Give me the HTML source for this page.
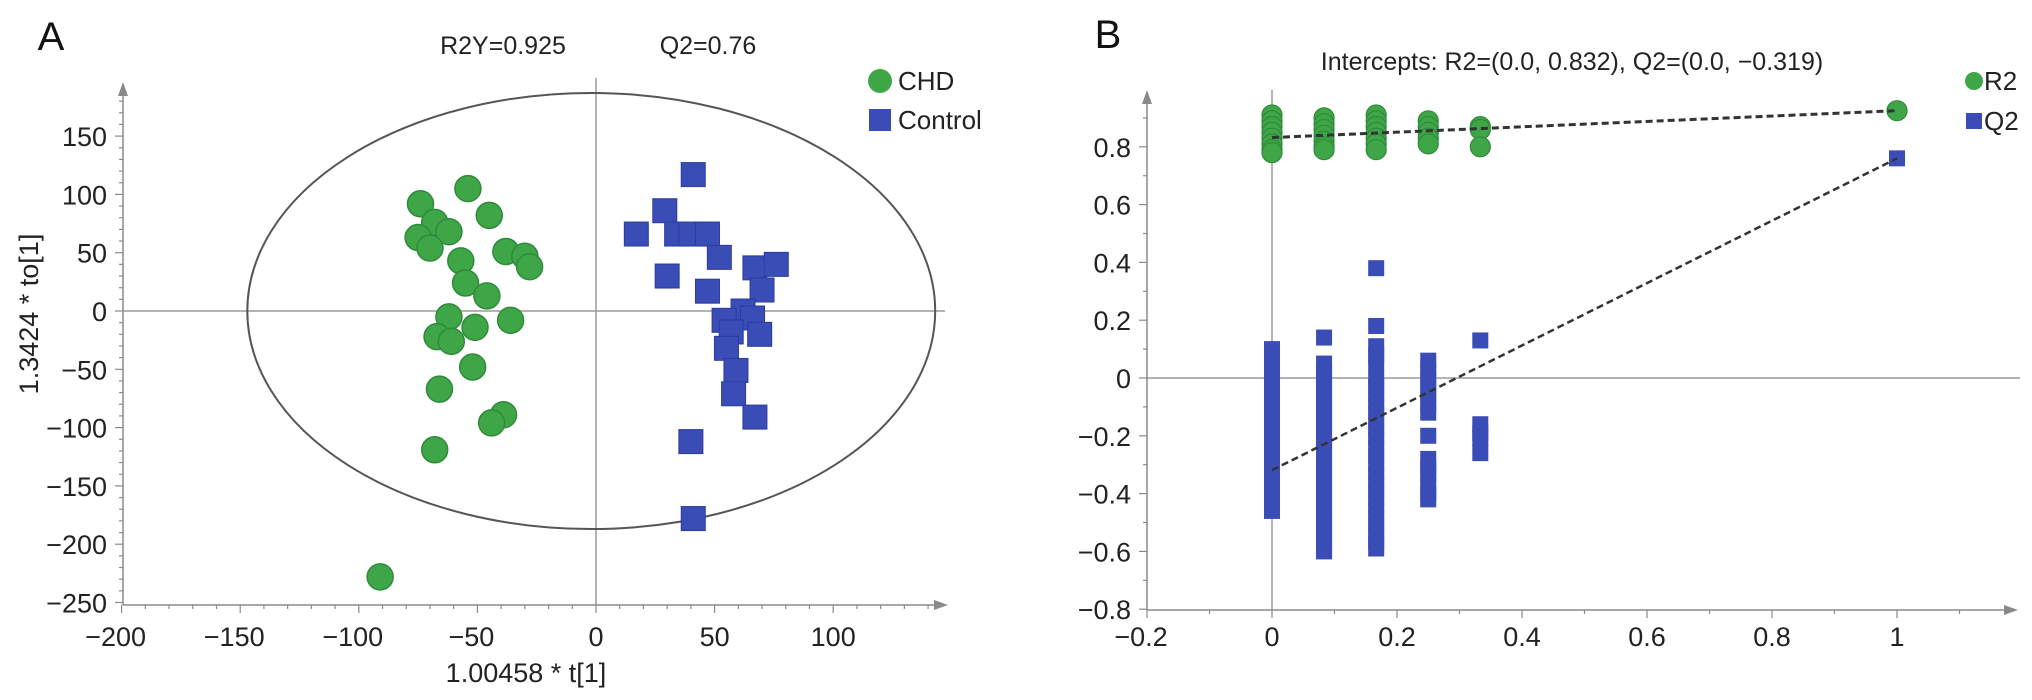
<!DOCTYPE html>
<html><head><meta charset="utf-8"><style>
html,body{margin:0;padding:0;background:#fff;}
svg{display:block;font-family:"Liberation Sans",Arial,sans-serif;}
</style></head><body>
<svg id="chart" width="2032" height="700" viewBox="0 0 2032 700">
<g id="pa"></g>
<g id="pb"></g>
</svg>
<script>
// ---- Panel A data (OPLS-DA scores) ----
const chdX = [-54,-74,-45,-68,-62,-75,-70,-57,-38,-30,-28,-55,-46,-62,-36,-51,-67,-61,-52,-66,-39,-44,-68,-91];
const chdY = [105,92,82,76,68,63,54,43,51,47,38,24,13,-5,-8,-14,-22,-26,-48,-67,-89,-96,-119,-228];
const ctrlX = [41,29,17,34,40,47,52,30,47,67,76,70,62,54,66,57,69,55,59,58,67,40,41];
const ctrlY = [117,86,66,66,66,66,46,30,17,37,40,18,0,-8,-6,-18,-20,-32,-51,-71,-91,-112,-178];
const aXTicks = [-200,-150,-100,-50,0,50,100];
const aYTicks = [150,100,50,0,-50,-100,-150,-200,-250];

// ---- Panel B data (permutation test) ----
const permX = [0,0.0833,0.1667,0.25,0.3333,1];
const r2Cols = [
 [0.91,0.89,0.87,0.85,0.83,0.81,0.79,0.78],
 [0.90,0.88,0.86,0.84,0.82,0.80,0.79],
 [0.91,0.89,0.87,0.85,0.83,0.81,0.79],
 [0.89,0.87,0.85,0.83,0.81],
 [0.87,0.86,0.80],
 [0.925]
];
const q2Cols = [
 [0.10,0.07,0.04,0.01,-0.02,-0.05,-0.08,-0.11,-0.14,-0.17,-0.20,-0.23,-0.26,-0.29,-0.32,-0.35,-0.38,-0.41,-0.44,-0.46],
 [0.14,0.05,0.02,-0.01,-0.04,-0.07,-0.10,-0.13,-0.16,-0.19,-0.22,-0.25,-0.28,-0.31,-0.34,-0.37,-0.40,-0.43,-0.46,-0.49,-0.52,-0.55,-0.58,-0.60],
 [0.38,0.18,0.11,0.08,0.05,0.00,-0.03,-0.06,-0.09,-0.12,-0.15,-0.18,-0.21,-0.24,-0.27,-0.30,-0.33,-0.36,-0.39,-0.42,-0.45,-0.48,-0.51,-0.54,-0.57,-0.59],
 [0.06,0.03,0.00,-0.03,-0.06,-0.09,-0.12,-0.20,-0.28,-0.31,-0.33,-0.37,-0.40,-0.42],
 [0.13,-0.16,-0.19,-0.21,-0.26],
 [0.76]
];
const r2Intercept = [0.832,0.925];
const q2Intercept = [-0.319,0.76];
const bXTicks = [-0.2,0,0.2,0.4,0.6,0.8,1];
const bYTicks = [0.8,0.6,0.4,0.2,0,-0.2,-0.4,-0.6,-0.8];

const NS="http://www.w3.org/2000/svg";
function mk(parent,tag,attrs,text){const e=document.createElementNS(NS,tag);for(const k in attrs)e.setAttribute(k,attrs[k]);if(text!==undefined)e.textContent=text;parent.appendChild(e);return e;}
function fmt(v){return v<0?'\u2212'+String(Math.abs(v)):String(v);}

// ===== Panel A =====
const A=document.getElementById('pa');
const axA=v=>596+v*2.372, ayA=v=>311-v*1.166;
const green='#3fa648', greenS='#2f8a3a', blue='#3a4cb6', blueS='#2c3c9c', axc='#8a8a8a';
let e;
e=mk(A,'text',{x:51,y:50,'font-size':40,'text-anchor':'middle',fill:'#111'},'A');

e=mk(A,'text',{x:503,y:54,'font-size':25,'text-anchor':'middle',fill:'#222'},'R2Y=0.925');

e=mk(A,'text',{x:708,y:54,'font-size':25,'text-anchor':'middle',fill:'#222'},'Q2=0.76');

// zero lines
e=mk(A,'line',{x1:axA(0),x2:axA(0),y1:78,y2:605,stroke:'#9a9a9a','stroke-width':1.5});

e=mk(A,'line',{x1:123,x2:945,y1:ayA(0),y2:ayA(0),stroke:'#9a9a9a','stroke-width':1.5});

// ellipse
e=mk(A,'ellipse',{cx:axA(-2),cy:ayA(0),rx:145*2.372,ry:187*1.166,fill:'none',stroke:'#555','stroke-width':2});

// axes
e=mk(A,'line',{x1:123,x2:940,y1:605,y2:605,stroke:axc,'stroke-width':1.5});

mk(A,'path',{d:'M948 605 L934 600 L934 610 Z',fill:axc});
e=mk(A,'line',{x1:123,x2:123,y1:90,y2:605,stroke:axc,'stroke-width':1.5});

mk(A,'path',{d:'M123 82 L118 96 L128 96 Z',fill:axc});
for(let v=-200;v<=140;v+=10){mk(A,'line',{x1:axA(v),x2:axA(v),y1:605,y2:v%50===0?613:609,stroke:axc,'stroke-width':1.2});}
for(let v=-250;v<=180;v+=10){mk(A,'line',{x1:123,x2:v%50===0?115:119,y1:ayA(v),y2:ayA(v),stroke:axc,'stroke-width':1.2});}
aXTicks.forEach(v=>{const t=mk(A,'text',{x:axA(v)-(v<0?6:0),y:646,'font-size':27,'text-anchor':'middle',fill:'#222'},fmt(v));
});
aYTicks.forEach(v=>{const t=mk(A,'text',{x:107,y:ayA(v)+10,'font-size':27,'text-anchor':'end',fill:'#222'},fmt(v));
});
e=mk(A,'text',{x:526,y:682,'font-size':27,'text-anchor':'middle',fill:'#222'},'1.00458 * t[1]');

e=mk(A,'text',{x:0,y:0,'font-size':27,'text-anchor':'middle',fill:'#222',transform:'translate(38,314) rotate(-90)'},'1.3424 * to[1]');

chdX.forEach((x,i)=>{const c=mk(A,'ellipse',{cx:axA(x),cy:ayA(chdY[i]),rx:13,ry:13,fill:green,stroke:greenS,'stroke-width':1.5});
});
ctrlX.forEach((x,i)=>{const r=mk(A,'rect',{x:axA(x)-12,y:ayA(ctrlY[i])-12,width:24,height:24,fill:blue,stroke:blueS,'stroke-width':1});
});
e=mk(A,'circle',{cx:880,cy:81,r:12,fill:green});

e=mk(A,'text',{x:898,y:90,'font-size':26,fill:'#222'},'CHD');

e=mk(A,'rect',{x:869,y:109,width:22,height:22,fill:blue});

e=mk(A,'text',{x:898,y:129,'font-size':26,fill:'#222'},'Control');


// ===== Panel B =====
const B=document.getElementById('pb');
const bx=v=>1272+v*625, by=v=>378-v*289;
e=mk(B,'text',{x:1108,y:48,'font-size':40,'text-anchor':'middle',fill:'#111'},'B');

e=mk(B,'text',{x:1572,y:70,'font-size':25,'text-anchor':'middle',fill:'#222'},'Intercepts: R2=(0.0, 0.832), Q2=(0.0, \u22120.319)');

e=mk(B,'line',{x1:bx(0),x2:bx(0),y1:90,y2:610,stroke:'#9a9a9a','stroke-width':1.5});

e=mk(B,'line',{x1:1147,x2:2020,y1:by(0),y2:by(0),stroke:'#9a9a9a','stroke-width':1.5});

e=mk(B,'line',{x1:1147,x2:2010,y1:610,y2:610,stroke:axc,'stroke-width':1.5});

mk(B,'path',{d:'M2018 610 L2004 605 L2004 615 Z',fill:axc});
e=mk(B,'line',{x1:1147,x2:1147,y1:98,y2:610,stroke:axc,'stroke-width':1.5});

mk(B,'path',{d:'M1147 90 L1142 104 L1152 104 Z',fill:axc});
for(let i=-2;i<=11;i++){const v=i/10;mk(B,'line',{x1:bx(v),x2:bx(v),y1:610,y2:i%2===0?618:614,stroke:axc,'stroke-width':1.2});}
for(let i=-8;i<=9;i++){const v=i/10;mk(B,'line',{x1:1147,x2:i%2===0?1139:1143,y1:by(v),y2:by(v),stroke:axc,'stroke-width':1.2});}
bXTicks.forEach(v=>{const t=mk(B,'text',{x:bx(v)-(v<0?6:0),y:646,'font-size':27,'text-anchor':'middle',fill:'#222'},fmt(v));
});
bYTicks.forEach(v=>{const t=mk(B,'text',{x:1131,y:by(v)+10,'font-size':27,'text-anchor':'end',fill:'#222'},fmt(v));
});
q2Cols.forEach((col,i)=>col.forEach(v=>{const r=mk(B,'rect',{x:bx(permX[i])-8,y:by(v)-8,width:16,height:16,fill:blue});
}));
r2Cols.forEach((col,i)=>col.forEach(v=>{const c=mk(B,'circle',{cx:bx(permX[i]),cy:by(v),r:10,fill:green,stroke:greenS,'stroke-width':1.2});
}));
e=mk(B,'line',{x1:bx(0),y1:by(r2Intercept[0]),x2:bx(1),y2:by(r2Intercept[1]),stroke:'#333','stroke-width':3,'stroke-dasharray':'7 4'});

e=mk(B,'line',{x1:bx(0),y1:by(q2Intercept[0]),x2:bx(1),y2:by(q2Intercept[1]),stroke:'#333','stroke-width':2.5,'stroke-dasharray':'7 4'});

e=mk(B,'circle',{cx:1974,cy:81,r:9,fill:green});

e=mk(B,'text',{x:1984,y:90,'font-size':26,fill:'#222'},'R2');

e=mk(B,'rect',{x:1966,y:113,width:16,height:16,fill:blue});

e=mk(B,'text',{x:1984,y:130,'font-size':26,fill:'#222'},'Q2');

</script>
</body></html>
